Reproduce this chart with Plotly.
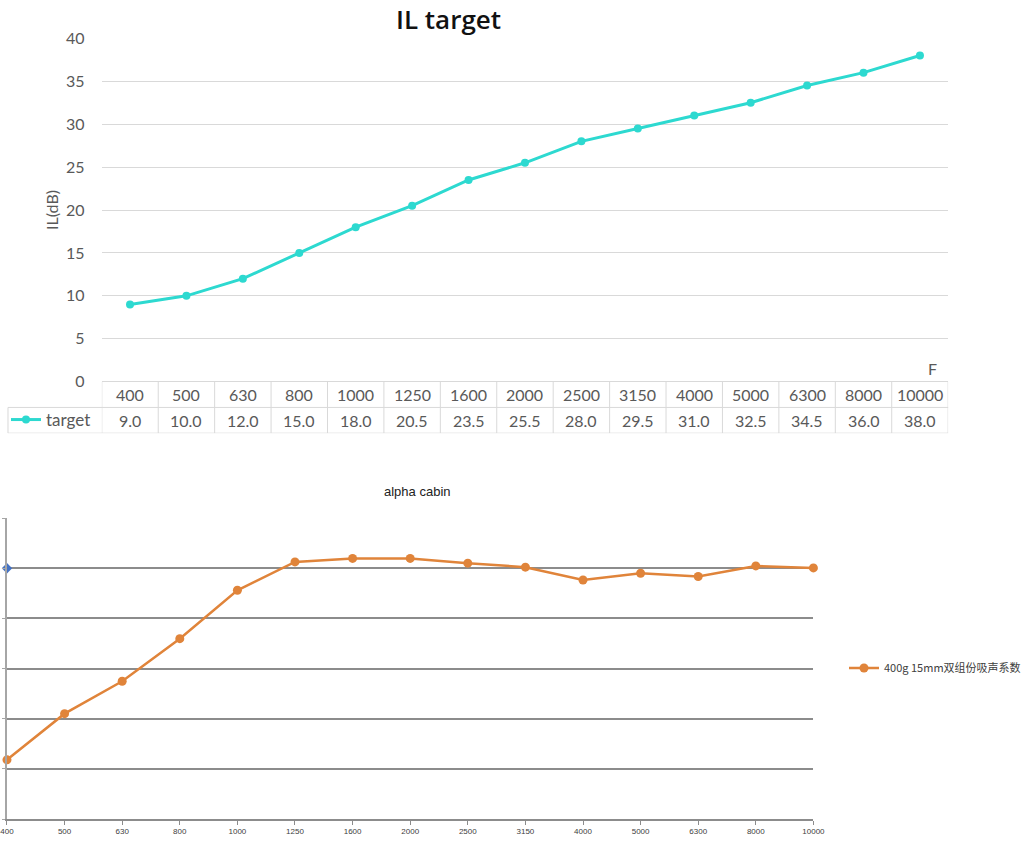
import plotly.graph_objects as go

W, H = 1026, 841

# ---------------- data ----------------
freq_labels = ["400", "500", "630", "800", "1000", "1250", "1600", "2000",
               "2500", "3150", "4000", "5000", "6300", "8000", "10000"]
il_target = [9.0, 10.0, 12.0, 15.0, 18.0, 20.5, 23.5, 25.5,
             28.0, 29.5, 31.0, 32.5, 34.5, 36.0, 38.0]
il_yticks = [0, 5, 10, 15, 20, 25, 30, 35, 40]

alpha_values = [0.236, 0.42, 0.549, 0.719, 0.912, 1.025, 1.039, 1.039,
                1.02, 1.004, 0.953, 0.98, 0.967, 1.009, 1.001]
alpha_ref_x = ["400"]
alpha_ref_y = [1.0]
alpha_yticks = [0, 0.2, 0.4, 0.6, 0.8, 1.0, 1.2]

# ---------------- helpers (pixel -> paper) ----------------
def px(x):
    return x / W

def py(y):
    return (H - y) / H

TEAL = "#2DD9D0"
ORANGE = "#E0843A"
BLUE = "#4472C4"
GRAY_TXT = "#595959"
GRID_TOP = "#D9D9D9"
GRID_BOT = "#8C8C8C"
FONT_TOP = "Lato"
FONT_BOT = "Liberation Sans"

fig = go.Figure()

# ---------------- top chart ----------------
fig.add_trace(go.Scatter(
    x=freq_labels, y=il_target, name="target", mode="lines+markers",
    line=dict(color=TEAL, width=3), marker=dict(color=TEAL, size=8),
    xaxis="x", yaxis="y", legend="legend", cliponaxis=False,
))

# ---------------- bottom chart ----------------
fig.add_trace(go.Scatter(
    x=freq_labels, y=alpha_values, name="400g 15mm双组份吸声系数",
    mode="lines+markers",
    line=dict(color=ORANGE, width=2.5), marker=dict(color=ORANGE, size=9),
    xaxis="x2", yaxis="y2", legend="legend2", cliponaxis=False,
))
fig.add_trace(go.Scatter(
    x=alpha_ref_x, y=alpha_ref_y, mode="markers", showlegend=False,
    marker=dict(color=BLUE, size=8, symbol="diamond"),
    xaxis="x2", yaxis="y2", cliponaxis=False,
))

annotations = []
shapes = []

# table text (category index positions on the top x axis)
for i, (lab, v) in enumerate(zip(freq_labels, il_target)):
    annotations.append(dict(x=i, y=-1.5, xref="x", yref="y", text=lab,
                            showarrow=False, xanchor="center", yanchor="middle",
                            font=dict(family=FONT_TOP, size=16, color=GRAY_TXT)))
    annotations.append(dict(x=i, y=-4.5, xref="x", yref="y", text=f"{v:.1f}",
                            showarrow=False, xanchor="center", yanchor="middle",
                            font=dict(family=FONT_TOP, size=16, color=GRAY_TXT)))

# table borders
n = len(freq_labels)
for i in range(n + 1):
    shapes.append(dict(type="line", xref="x", yref="y", x0=i - 0.5, x1=i - 0.5,
                       y0=-6, y1=0, line=dict(color=GRID_TOP, width=1)))
for yv in (-3, -6):
    shapes.append(dict(type="line", xref="paper", yref="y", x0=px(8), x1=px(950),
                       y0=yv, y1=yv, line=dict(color=GRID_TOP, width=1)))
shapes.append(dict(type="line", xref="paper", yref="y", x0=px(8), x1=px(8),
                   y0=-6, y1=-3, line=dict(color=GRID_TOP, width=1)))

# titles / labels
annotations += [
    dict(x=px(449), y=py(19), xref="paper", yref="paper", text="IL target",
         xanchor="center", yanchor="middle", showarrow=False,
         font=dict(family="Open Sans", size=26, color="#111111", weight=600)),
    dict(x=px(52), y=20, xref="paper", yref="y", text="IL(dB)", textangle=-90,
         xanchor="center", yanchor="middle", showarrow=False,
         font=dict(family=FONT_TOP, size=16, color=GRAY_TXT)),
    dict(x=px(934), y=py(368), xref="paper", yref="paper", text="F",
         xanchor="center", yanchor="middle", showarrow=False,
         font=dict(family=FONT_TOP, size=16, color=GRAY_TXT)),
    dict(x=px(418), y=py(491), xref="paper", yref="paper", text="alpha cabin",
         xanchor="center", yanchor="middle", showarrow=False,
         font=dict(family=FONT_BOT, size=13, color="#222222")),
]

fig.update_layout(
    template="none",
    width=W, height=H,
    margin=dict(l=0, r=0, t=0, b=0, pad=0),
    paper_bgcolor="white", plot_bgcolor="white",
    xaxis=dict(domain=[px(102), px(950)], type="category",
               categoryorder="array", categoryarray=freq_labels,
               range=[-0.5, n - 0.5], showticklabels=False, showgrid=False,
               showline=False, zeroline=False, ticks="", anchor="y",
               automargin=False),
    yaxis=dict(domain=[py(433.2), py(38.3)], range=[-6, 40],
               tickvals=il_yticks, showgrid=True, gridcolor=GRID_TOP, gridwidth=1,
               zeroline=False, showline=False, ticks="outside", ticklen=13,
               tickcolor="rgba(0,0,0,0)", automargin=False,
               tickfont=dict(family=FONT_TOP, size=16, color=GRAY_TXT), anchor="x"),
    xaxis2=dict(domain=[px(7), px(815)], type="category",
                categoryorder="array", categoryarray=freq_labels,
                range=[0, n - 1], showgrid=False, zeroline=False,
                showline=True, linecolor=GRID_BOT, linewidth=1.5,
                ticks="outside", ticklen=4, tickcolor=GRID_BOT, automargin=False,
                tickfont=dict(family=FONT_BOT, size=8, color="#404040"), anchor="y2"),
    yaxis2=dict(domain=[py(819), py(518)], range=[0, 1.2001],
                tickvals=alpha_yticks, showticklabels=False,
                showgrid=True, gridcolor=GRID_BOT, gridwidth=1.5,
                zeroline=False, showline=True, linecolor="#A6A6A6", linewidth=1.5,
                ticks="outside", ticklen=3, tickcolor="#A6A6A6", anchor="x2",
                automargin=False),
    legend=dict(x=px(6), y=py(420), xanchor="left", yanchor="middle",
                bgcolor="rgba(0,0,0,0)",
                font=dict(family=FONT_TOP, size=17, color=GRAY_TXT)),
    legend2=dict(x=px(846), y=py(668), xanchor="left", yanchor="middle",
                 bgcolor="rgba(0,0,0,0)",
                 font=dict(family="Noto Sans CJK SC", size=11, color="#404040")),
    annotations=annotations,
    shapes=shapes,
)

fig.write_html("out.html")
